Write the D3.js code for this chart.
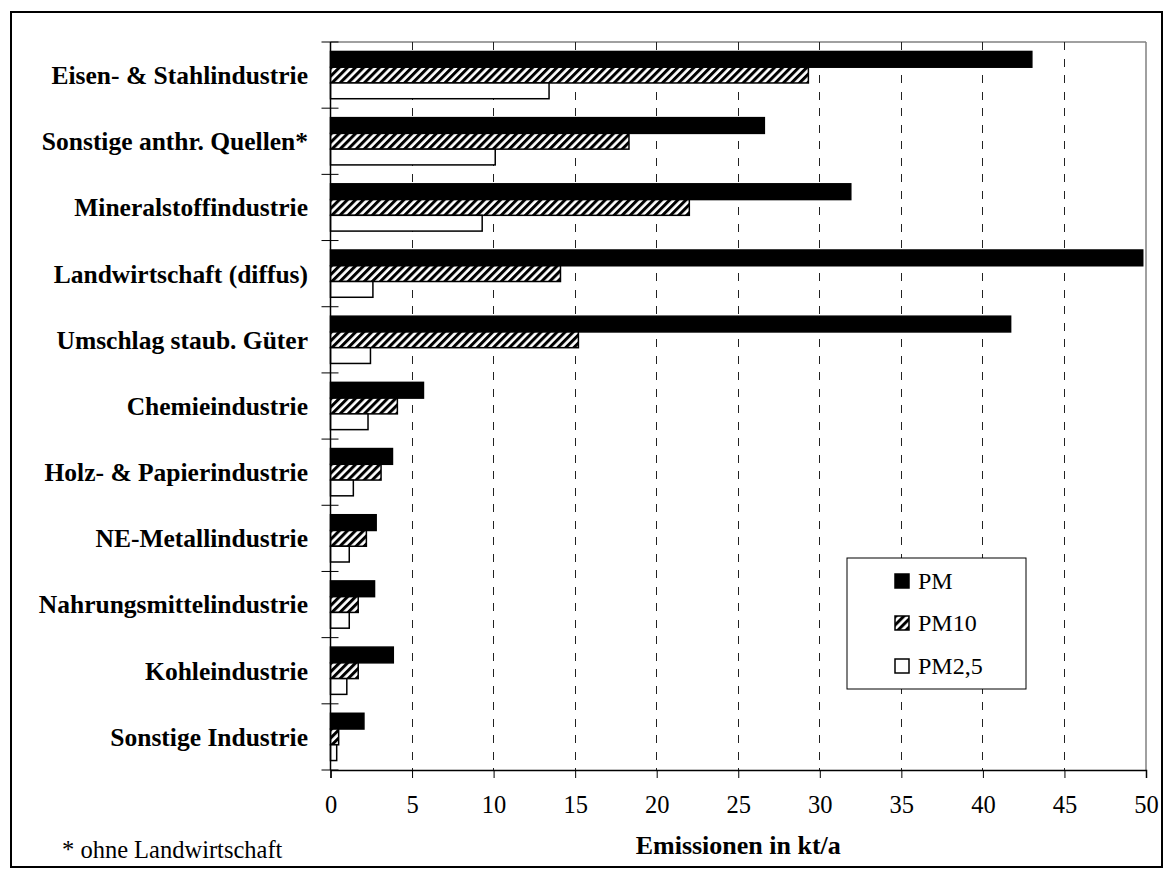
<!DOCTYPE html>
<html>
<head>
<meta charset="utf-8">
<script src="https://cdn.jsdelivr.net/npm/d3@7"></script>
<style>
  html, body { margin: 0; padding: 0; background: #fff; }
  svg { display: block; font-family: "Liberation Serif", "Times New Roman", serif; }
</style>
</head>
<body>
<svg id="chart" width="1173" height="880"></svg>
<script>
// Emission sources (top to bottom)
const categories = [
  "Eisen- & Stahlindustrie",
  "Sonstige anthr. Quellen*",
  "Mineralstoffindustrie",
  "Landwirtschaft (diffus)",
  "Umschlag staub. Güter",
  "Chemieindustrie",
  "Holz- & Papierindustrie",
  "NE-Metallindustrie",
  "Nahrungsmittelindustrie",
  "Kohleindustrie",
  "Sonstige Industrie"
];

// Emissions in kt/a per size fraction
const seriesNames = ["PM", "PM10", "PM2,5"];
const pmValues   = [43.0, 26.6, 31.9, 49.8, 41.7, 5.7, 3.8, 2.8, 2.7, 3.85, 2.05];
const pm10Values = [29.3, 18.3, 22.0, 14.1, 15.2, 4.1, 3.1, 2.2, 1.7, 1.7, 0.5];
const pm25Values = [13.4, 10.1, 9.3, 2.6, 2.45, 2.3, 1.4, 1.15, 1.15, 1.0, 0.38];

const xTicks = [0, 5, 10, 15, 20, 25, 30, 35, 40, 45, 50];
const xTitle = "Emissionen in kt/a";
const footnote = "* ohne Landwirtschaft";

const seriesValues = [pmValues, pm10Values, pm25Values];

const svg = d3.select("#chart");

// Outer chart frame
svg.append("rect")
  .attr("x", 11).attr("y", 12)
  .attr("width", 1151).attr("height", 855)
  .attr("fill", "#fff").attr("stroke", "#000").attr("stroke-width", 2);

// Hatch pattern for PM10
const defs = svg.append("defs");
const hatch = defs.append("pattern")
  .attr("id", "hatch")
  .attr("patternUnits", "userSpaceOnUse")
  .attr("width", 5.7).attr("height", 5.7)
  .attr("patternTransform", "rotate(45)");
hatch.append("rect").attr("width", 5.7).attr("height", 5.7).attr("fill", "#fff");
hatch.append("rect").attr("width", 3.0).attr("height", 5.7).attr("fill", "#000");

const fills = ["#000", "url(#hatch)", "#fff"];

// Plot area
const plot = { left: 330.5, right: 1146, top: 42, bottom: 770 };

const x = d3.scaleLinear().domain([0, 50]).range([plot.left, plot.right]);
const y0 = d3.scaleBand().domain(categories).range([plot.top, plot.bottom]).padding(0);
const y1 = d3.scaleBand().domain(seriesNames).range([0, y0.bandwidth()])
  .paddingInner(0).paddingOuter(0.6);

// Plot area border (grey top and right edges)
svg.append("line")
  .attr("x1", plot.left).attr("x2", plot.right)
  .attr("y1", plot.top).attr("y2", plot.top)
  .attr("stroke", "#808080").attr("stroke-width", 1.5);
svg.append("line")
  .attr("x1", plot.right).attr("x2", plot.right)
  .attr("y1", plot.top).attr("y2", plot.bottom)
  .attr("stroke", "#808080").attr("stroke-width", 1.5);

// Dashed vertical gridlines
svg.append("g")
  .selectAll("line")
  .data(xTicks.filter(t => t > 0 && t < 50))
  .join("line")
  .attr("x1", d => x(d)).attr("x2", d => x(d))
  .attr("y1", plot.top).attr("y2", plot.bottom)
  .attr("stroke", "#222").attr("stroke-width", 1)
  .attr("stroke-dasharray", "8,8.5")
  .attr("shape-rendering", "crispEdges");

// Bars
const groups = svg.append("g")
  .selectAll("g")
  .data(categories)
  .join("g")
  .attr("transform", d => `translate(0,${y0(d)})`);

groups.selectAll("rect")
  .data((c, i) => seriesNames.map((s, j) => ({ s, j, v: seriesValues[j][i] })))
  .join("rect")
  .attr("x", x(0))
  .attr("y", d => y1(d.s))
  .attr("width", d => x(d.v) - x(0))
  .attr("height", y1.bandwidth())
  .attr("fill", d => fills[d.j])
  .attr("stroke", "#000")
  .attr("stroke-width", 1.5);

// X axis
const xAxis = svg.append("g")
  .attr("transform", `translate(0,${plot.bottom})`)
  .call(d3.axisBottom(x).tickValues(xTicks).tickSize(8).tickPadding(18).tickFormat(d3.format("d")));
xAxis.select(".domain").attr("stroke", "#000").attr("stroke-width", 1.5);
xAxis.selectAll(".tick line").attr("stroke", "#000").attr("stroke-width", 1);
xAxis.selectAll(".tick text")
  .attr("font-family", "Liberation Serif, serif")
  .attr("font-size", 24.5)
  .attr("fill", "#000");

// Y axis line with crossing tick marks at category boundaries
svg.append("line")
  .attr("x1", plot.left).attr("x2", plot.left)
  .attr("y1", plot.top).attr("y2", plot.bottom)
  .attr("stroke", "#000").attr("stroke-width", 1.5);
const boundaries = categories.map(c => y0(c)).concat([plot.bottom]);
svg.append("g")
  .selectAll("line")
  .data(boundaries)
  .join("line")
  .attr("x1", plot.left - 9).attr("x2", plot.left + 8)
  .attr("y1", d => d).attr("y2", d => d)
  .attr("stroke", "#000").attr("stroke-width", 1);

// Category labels
svg.append("g")
  .selectAll("text")
  .data(categories)
  .join("text")
  .attr("x", 308)
  .attr("y", d => y0(d) + y0.bandwidth() / 2)
  .attr("dy", "0.35em")
  .attr("text-anchor", "end")
  .attr("font-weight", "bold")
  .attr("font-size", 25.5)
  .text(d => d);

// Axis title
svg.append("text")
  .attr("x", (plot.left + plot.right) / 2)
  .attr("y", 854)
  .attr("text-anchor", "middle")
  .attr("font-weight", "bold")
  .attr("font-size", 26)
  .text(xTitle);

// Footnote
svg.append("text")
  .attr("x", 62)
  .attr("y", 858)
  .attr("font-size", 24.5)
  .text(footnote);

// Legend
const legend = svg.append("g");
legend.append("rect")
  .attr("x", 847).attr("y", 558)
  .attr("width", 179).attr("height", 131)
  .attr("fill", "#fff").attr("stroke", "#000").attr("stroke-width", 1);
const rowY = [581, 623, 666];
const items = legend.selectAll("g.item")
  .data(seriesNames)
  .join("g")
  .attr("class", "item")
  .attr("transform", (d, i) => `translate(895,${rowY[i]})`);
items.append("rect")
  .attr("x", 0).attr("y", -7)
  .attr("width", 14).attr("height", 14)
  .attr("fill", (d, i) => fills[i])
  .attr("stroke", "#000").attr("stroke-width", 1.5);
items.append("text")
  .attr("x", 23).attr("y", 0)
  .attr("dy", "0.35em")
  .attr("font-size", 24)
  .text(d => d);
</script>
</body>
</html>
